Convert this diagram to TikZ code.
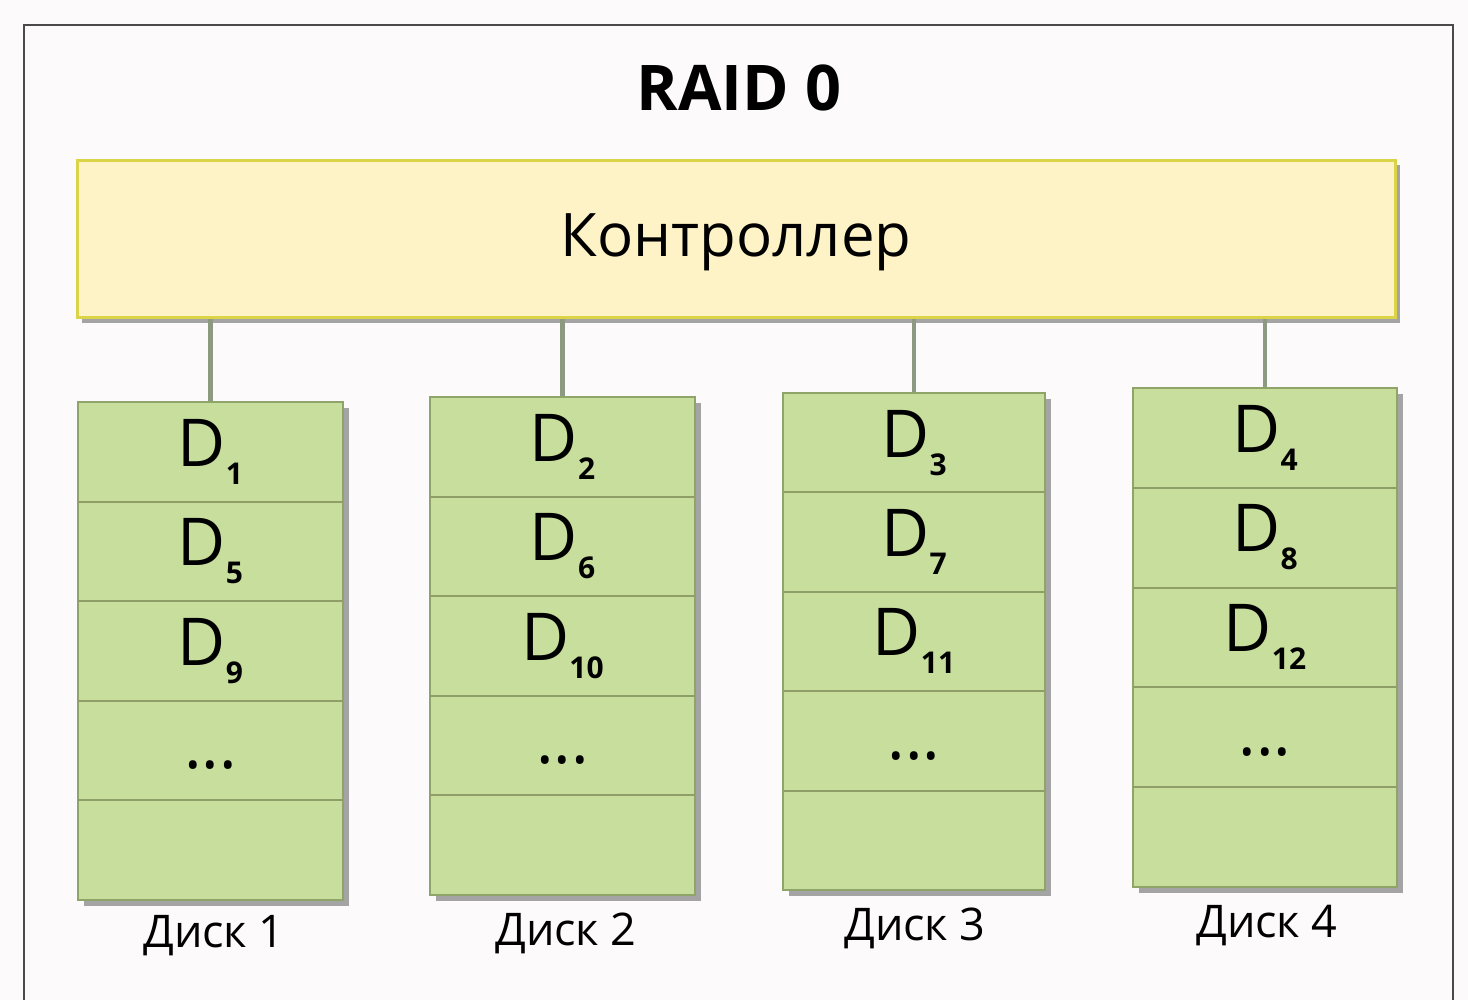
\documentclass[tikz,border=0pt]{standalone}
\usepackage{fontspec}
\setmainfont{Open Sans}
\usetikzlibrary{calc}
\definecolor{bgc}{HTML}{FCFAFB}
\definecolor{framec}{HTML}{4A4A4A}
\definecolor{ctrlfill}{HTML}{FDF3C6}
\definecolor{ctrldraw}{HTML}{DCD448}
\definecolor{diskfill}{HTML}{C8DE9C}
\definecolor{diskdraw}{HTML}{8FA468}
\definecolor{rowline}{HTML}{8E9E66}
\definecolor{shadowc}{HTML}{A4A4A4}
\definecolor{connc}{HTML}{8C9A82}
\newcommand{\Dsub}[1]{D\raisebox{-18pt}{\fontsize{30}{30}\selectfont\bfseries #1}}
\begin{document}
\begin{tikzpicture}[x=1pt,y=-1pt,
  ctrlbox/.style={rectangle, fill=ctrlfill, draw=ctrldraw, line width=3pt, inner sep=0pt},
  diskbox/.style={rectangle, fill=diskfill, draw=diskdraw, line width=2pt, inner sep=0pt},
  rowsep/.style={draw=rowline, line width=2pt},
  shadowbox/.style={fill=shadowc},
  conn/.style={draw=connc, line width=4.5pt},
  celltext/.style={anchor=base, inner sep=0pt, font=\fontsize{66}{66}\selectfont},
  disklabel/.style={anchor=base, inner sep=0pt, font=\fontsize{45}{45}\selectfont},
]
\useasboundingbox (0,0) rectangle (1468,1000);
\fill[bgc] (0,0) rectangle (1468,1000);
\draw[framec, line width=1.5pt] (24,1000) -- (24,25) -- (1453,25) -- (1453,1000);

\node[anchor=base, inner sep=0pt, font=\bfseries\fontsize{63}{63}\selectfont] (title) at (739,111) {RAID 0};

\fill[shadowbox] (82,165) rectangle (1400,323);
\node[ctrlbox, minimum width=1318pt, minimum height=157pt] (ctrl) at (736,239) {};
\node[anchor=base, inner sep=0pt, font=\fontsize{60}{60}\selectfont] (ctrltext) at (736,257) {Контроллер};

\foreach \i/\l/\t/\r/\b/\lx/\ly/\na/\nb/\nc in {
  1/78/402/343/900/214/947/1/5/9,
  2/430/397/695/895/566/945/2/6/10,
  3/783/393/1045/890/915/940/3/7/11,
  4/1133/388/1397/887/1267/937/4/8/12}{
  \pgfmathsetmacro{\h}{(\b-\t)/5}
  \fill[shadowbox] (\l+6,\t+6) rectangle (\r+6,\b+6);
  \node[diskbox, minimum width={\r-\l}, minimum height={\b-\t}] (disk\i) at ({(\l+\r)/2},{(\t+\b)/2}) {};
  \foreach \k in {1,2,3,4}{
    \draw[rowsep] (\l,{\t+\k*\h}) -- (\r,{\t+\k*\h});
  }
  \node[celltext] (c\i a) at ({(\l+\r)/2},{\t+64}) {\Dsub{\na}};
  \node[celltext] (c\i b) at ({(\l+\r)/2},{\t+\h+64}) {\Dsub{\nb}};
  \node[celltext] (c\i c) at ({(\l+\r)/2},{\t+2*\h+64}) {\Dsub{\nc}};
  \node[celltext] (c\i d) at ({(\l+\r)/2},{\t+3*\h+68}) {...};
  \draw[conn] (ctrl.south -| disk\i.north) -- (disk\i.north);
  \node[disklabel] (lab\i) at (\lx,\ly) {Диск \i};
}
\end{tikzpicture}
\end{document}
